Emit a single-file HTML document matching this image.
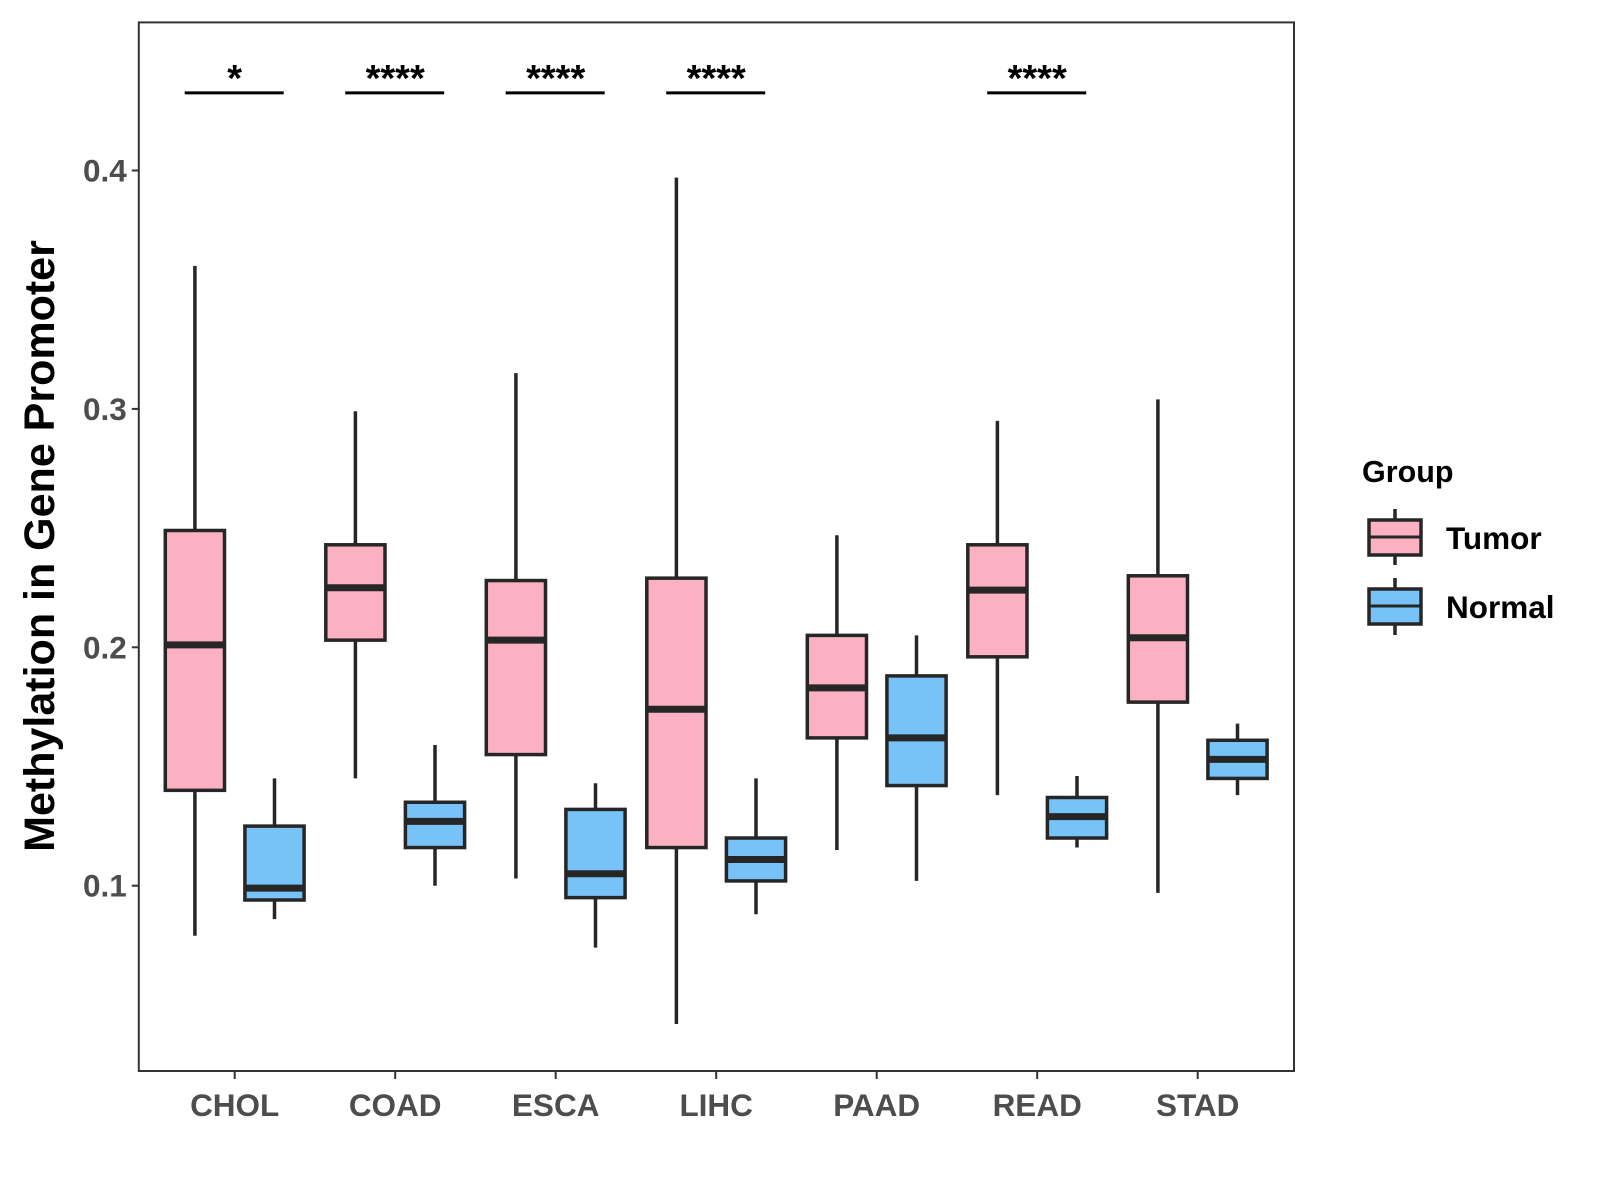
<!DOCTYPE html>
<html><head><meta charset="utf-8"><style>body{margin:0;background:#fff}svg{display:block}text{font-family:"Liberation Sans",Arial,sans-serif;font-weight:bold}</style></head>
<body>
<svg id="chart" width="1600" height="1200" viewBox="0 0 1600 1200" xmlns="http://www.w3.org/2000/svg"></svg>
<script>
const categories = ["CHOL","COAD","ESCA","LIHC","PAAD","READ","STAD"];
// [lowerWhisker, q1, median, q3, upperWhisker]
const tumorStats = [[0.079,0.140,0.201,0.249,0.360],[0.145,0.203,0.225,0.243,0.299],[0.103,0.155,0.203,0.228,0.315],[0.042,0.116,0.174,0.229,0.397],[0.115,0.162,0.183,0.205,0.247],[0.138,0.196,0.224,0.243,0.295],[0.097,0.177,0.204,0.230,0.304]];
const normalStats = [[0.086,0.094,0.099,0.125,0.145],[0.100,0.116,0.127,0.135,0.159],[0.074,0.095,0.105,0.132,0.143],[0.088,0.102,0.111,0.120,0.145],[0.102,0.142,0.162,0.188,0.205],[0.116,0.120,0.129,0.137,0.146],[0.138,0.145,0.153,0.161,0.168]];
const significance = ["*","****","****","****","","****",""];
const yTicks = [0.1,0.2,0.3,0.4];

const svg = document.getElementById('chart');
const NS = "http://www.w3.org/2000/svg";
const P = {l:138.8,r:1294,t:22.4,b:1071};
const y = v => 885.7 - (v-0.1)*2384;
const x = i => 234.7 + i*160.5;
const off = 39.8, bw = 59.2;
function mk(tag, attrs, parent){const e=document.createElementNS(NS,tag);for(const k in attrs)e.setAttribute(k,attrs[k]);(parent||svg).appendChild(e);return e;}

const panel = mk('rect',{x:P.l,y:P.t,width:P.r-P.l,height:P.b-P.t,fill:'#fff',stroke:'#333','stroke-width':2});



yTicks.forEach(t=>{
  const g = mk('g',{});
  
  
  mk('line',{x1:P.l-7,x2:P.l,y1:y(t),y2:y(t),stroke:'#333','stroke-width':2},g);
  const tx = mk('text',{x:P.l-12,y:y(t)+11,'text-anchor':'end','font-size':31.5,fill:'#4d4d4d'},g);
  tx.textContent = t.toFixed(1);
});

function drawBox(s, cx, fill, name){
  const g = mk('g',{});
  
  
  mk('line',{x1:cx,x2:cx,y1:y(s[0]),y2:y(s[4]),stroke:'#262626','stroke-width':3.5},g);
  mk('rect',{x:cx-bw/2,y:y(s[3]),width:bw,height:y(s[1])-y(s[3]),fill:fill,stroke:'#262626','stroke-width':3.5},g);
  mk('line',{x1:cx-bw/2,x2:cx+bw/2,y1:y(s[2]),y2:y(s[2]),stroke:'#262626','stroke-width':7},g);
}

categories.forEach((c,i)=>{
  drawBox(tumorStats[i], x(i)-off, '#fbb1c2', 'box-tumor-'+c.toLowerCase());
  drawBox(normalStats[i], x(i)+off, '#77c2f7', 'box-normal-'+c.toLowerCase());
  const tk = mk('line',{x1:x(i),x2:x(i),y1:P.b,y2:P.b+8,stroke:'#333','stroke-width':2});
  
  
  const lb = mk('text',{x:x(i),y:1116,'text-anchor':'middle','font-size':31.5,fill:'#4d4d4d'});
  
  
  lb.textContent = c;
  if(significance[i]){
    const g = mk('g',{});
    
    
    mk('line',{x1:x(i)-50,x2:x(i)+49,y1:92.9,y2:92.9,stroke:'#000','stroke-width':3},g);
    const st = mk('text',{x:x(i),y:91,'text-anchor':'middle','font-size':38,fill:'#000'},g);
    st.textContent = significance[i];
  }
});
</script>
<svg style="position:absolute;left:0;top:0" width="1600" height="1200">
<text transform="translate(54,546) rotate(-90)" text-anchor="middle" font-size="43" fill="#000" style="font-family:'Liberation Sans',Arial,sans-serif;font-weight:bold">Methylation in Gene Promoter</text>
<g style="font-family:'Liberation Sans',Arial,sans-serif;font-weight:bold">
<text x="1362" y="482" font-size="30.5" fill="#000">Group</text>
<g>
<line x1="1395" x2="1395" y1="509" y2="565" stroke="#262626" stroke-width="3.5"/>
<rect x="1369" y="520" width="52" height="35" fill="#fbb1c2" stroke="#262626" stroke-width="3.5"/>
<line x1="1369" x2="1421" y1="537" y2="537" stroke="#262626" stroke-width="3"/>
<text x="1446" y="549" font-size="31.5" fill="#000">Tumor</text>
</g>
<g>
<line x1="1395" x2="1395" y1="578" y2="635" stroke="#262626" stroke-width="3.5"/>
<rect x="1369" y="589" width="52" height="35" fill="#77c2f7" stroke="#262626" stroke-width="3.5"/>
<line x1="1369" x2="1421" y1="606" y2="606" stroke="#262626" stroke-width="3"/>
<text x="1446" y="618" font-size="31.5" fill="#000">Normal</text>
</g>
</g>
</svg>
</body></html>
